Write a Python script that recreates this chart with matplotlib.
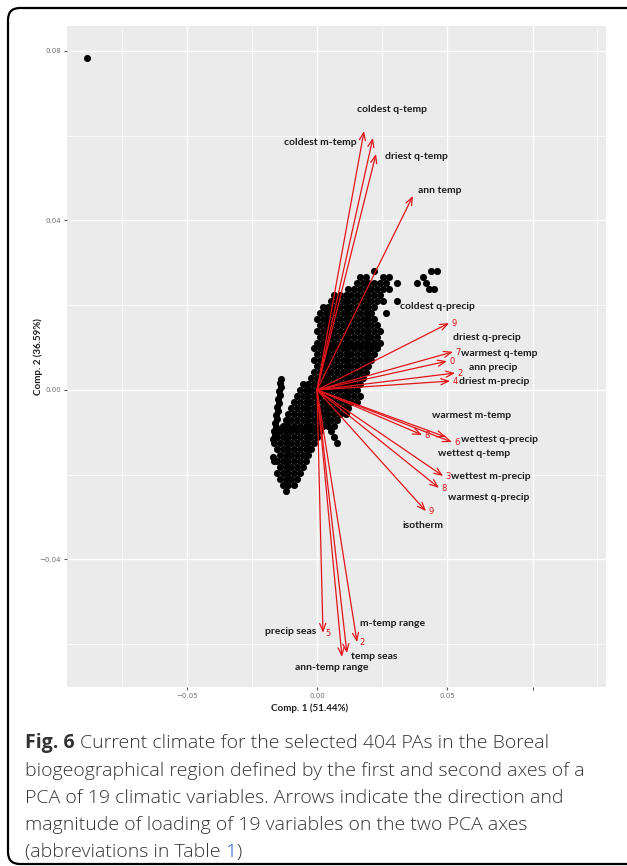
import matplotlib.pyplot as plt
from matplotlib.patches import FancyBboxPatch
from matplotlib.transforms import IdentityTransform

# PCA site scores (404 protected areas), grouped by rows of comp. 2
pc2_rows = [0.0280, 0.0266, 0.0252, 0.0238, 0.0224, 0.0210, 0.0196, 0.0182,
            0.0168, 0.0154, 0.0140, 0.0126, 0.0112, 0.0098, 0.0084, 0.0070,
            0.0056, 0.0042, 0.0028, 0.0014, 0.0000, -0.0014, -0.0028, -0.0042,
            -0.0056, -0.0070, -0.0084, -0.0098, -0.0112, -0.0126, -0.0140,
            -0.0154, -0.0168, -0.0182, -0.0196, -0.0210, -0.0224, -0.0238]
pc1_rows = [
    [0.0220, 0.0440, 0.0462],
    [0.0165, 0.0187, 0.0253, 0.0275, 0.0407],
    [0.0154, 0.0176, 0.0198, 0.0220, 0.0242, 0.0264, 0.0308, 0.0385, 0.0418],
    [0.0121, 0.0143, 0.0165, 0.0187, 0.0209, 0.0231, 0.0253, 0.0275, 0.0429, 0.0451],
    [0.0066, 0.0088, 0.0110, 0.0132, 0.0154, 0.0176, 0.0198, 0.0220, 0.0242],
    [0.0055, 0.0077, 0.0099, 0.0121, 0.0143, 0.0165, 0.0187, 0.0209, 0.0231, 0.0253, 0.0308],
    [0.0022, 0.0044, 0.0066, 0.0088, 0.0110, 0.0132, 0.0154, 0.0176, 0.0198, 0.0220],
    [0.0011, 0.0033, 0.0055, 0.0077, 0.0099, 0.0121, 0.0143, 0.0165, 0.0187, 0.0209, 0.0264],
    [0.0000, 0.0022, 0.0044, 0.0066, 0.0088, 0.0110, 0.0132, 0.0154, 0.0176, 0.0198, 0.0220],
    [0.0011, 0.0033, 0.0055, 0.0077, 0.0099, 0.0121, 0.0143, 0.0165, 0.0187, 0.0209, 0.0231],
    [0.0000, 0.0022, 0.0044, 0.0066, 0.0088, 0.0110, 0.0132, 0.0154, 0.0176, 0.0198, 0.0220, 0.0242],
    [0.0011, 0.0033, 0.0055, 0.0077, 0.0099, 0.0121, 0.0143, 0.0165, 0.0187, 0.0209, 0.0231],
    [0.0000, 0.0022, 0.0044, 0.0066, 0.0088, 0.0110, 0.0132, 0.0154, 0.0176, 0.0198, 0.0220, 0.0242],
    [-0.0011, 0.0011, 0.0033, 0.0055, 0.0077, 0.0099, 0.0121, 0.0143, 0.0165, 0.0187, 0.0209, 0.0231],
    [0.0000, 0.0022, 0.0044, 0.0066, 0.0088, 0.0110, 0.0132, 0.0154, 0.0176, 0.0198, 0.0220],
    [-0.0011, 0.0011, 0.0033, 0.0055, 0.0077, 0.0099, 0.0121, 0.0143, 0.0165, 0.0187, 0.0209],
    [0.0000, 0.0022, 0.0044, 0.0066, 0.0088, 0.0110, 0.0132, 0.0154, 0.0176, 0.0198],
    [-0.0011, 0.0011, 0.0033, 0.0055, 0.0077, 0.0099, 0.0121, 0.0143, 0.0165, 0.0187],
    [-0.0022, 0.0000, 0.0022, 0.0044, 0.0066, 0.0088, 0.0110, 0.0132, 0.0154, 0.0176],
    [-0.0055, -0.0033, -0.0011, 0.0011, 0.0033, 0.0055, 0.0077, 0.0099, 0.0121, 0.0143, 0.0165],
    [-0.0066, -0.0044, -0.0022, 0.0000, 0.0022, 0.0044, 0.0066, 0.0088, 0.0110, 0.0132, 0.0154],
    [-0.0077, -0.0055, -0.0033, -0.0011, 0.0011, 0.0033, 0.0055, 0.0077, 0.0099, 0.0121, 0.0143, 0.0165],
    [-0.0088, -0.0066, -0.0044, -0.0022, 0.0000, 0.0022, 0.0044, 0.0066, 0.0088, 0.0110, 0.0132, 0.0154],
    [-0.0099, -0.0077, -0.0055, -0.0033, -0.0011, 0.0011, 0.0033, 0.0055, 0.0077, 0.0099, 0.0121],
    [-0.0110, -0.0088, -0.0066, -0.0044, -0.0022, 0.0000, 0.0022, 0.0044, 0.0066, 0.0088, 0.0110],
    [-0.0121, -0.0099, -0.0077, -0.0055, -0.0033, -0.0011, 0.0011, 0.0033, 0.0055, 0.0077],
    [-0.0132, -0.0110, -0.0088, -0.0066, -0.0044, -0.0022, 0.0000, 0.0022, 0.0044, 0.0066],
    [-0.0143, -0.0121, -0.0099, -0.0077, -0.0055, -0.0033, -0.0011, 0.0011, 0.0055],
    [-0.0154, -0.0132, -0.0110, -0.0088, -0.0066, -0.0044, -0.0022, 0.0000, 0.0066],
    [-0.0143, -0.0121, -0.0099, -0.0077, -0.0055, -0.0033, -0.0011, 0.0077],
    [-0.0154, -0.0132, -0.0110, -0.0088, -0.0066, -0.0044, -0.0022],
    [-0.0143, -0.0121, -0.0099, -0.0077, -0.0055, -0.0033],
    [-0.0154, -0.0132, -0.0110, -0.0088, -0.0066, -0.0044],
    [-0.0143, -0.0121, -0.0099, -0.0077, -0.0055],
    [-0.0154, -0.0132, -0.0110, -0.0088, -0.0066],
    [-0.0143, -0.0121, -0.0099, -0.0077],
    [-0.0132, -0.0110, -0.0088],
    [-0.0121],
]

# narrow western strand of sites
strip_pc1 = [-0.0138, -0.0142, -0.0138, -0.0146, -0.0142, -0.0150, -0.0146, -0.0154,
             -0.0150, -0.0158, -0.0154, -0.0162, -0.0158, -0.0165, -0.0162, -0.0169,
             -0.0165, -0.0169, -0.0165]
strip_pc2 = [0.0026, 0.0017, 0.0007, -0.0002, -0.0012, -0.0021, -0.0031, -0.0040,
             -0.0050, -0.0059, -0.0068, -0.0078, -0.0087, -0.0097, -0.0106, -0.0116,
             -0.0125, -0.0158, -0.0168]

outlier_pc1 = [-0.0885]
outlier_pc2 = [0.0783]

# loadings of the 19 bioclimatic variables
variables = ['ann temp', 'm-temp range', 'isotherm', 'temp seas', 'warmest m-temp',
             'coldest m-temp', 'ann-temp range', 'wettest q-temp', 'driest q-temp',
             'warmest q-temp', 'coldest q-temp', 'ann precip', 'wettest m-precip',
             'driest m-precip', 'precip seas', 'wettest q-precip', 'driest q-precip',
             'warmest q-precip', 'coldest q-precip']
load_pc1 = [0.0369, 0.0154, 0.0419, 0.0115, 0.0496, 0.0215, 0.0096, 0.0404, 0.0227, 0.0500,
            0.0181, 0.0531, 0.0485, 0.0512, 0.0023, 0.0519, 0.0523, 0.0469, 0.0508]
load_pc2 = [0.0458, -0.0595, -0.0286, -0.0621, -0.0111, 0.0595, -0.0630, -0.0106, 0.0557, 0.0068,
            0.0611, 0.0040, -0.0203, 0.0021, -0.0573, -0.0123, 0.0090, -0.0231, 0.0158]

x_ticks = [-0.05, 0.0, 0.05, 0.0831]
x_tick_labels = ['\u22120.05', '0.00', '0.05', '']
y_ticks = [-0.04, 0.0, 0.04, 0.08]
y_tick_labels = ['\u22120.04', '0.00', '0.04', '0.08']

caption_lines = [
    'Current climate for the selected 404 PAs in the Boreal',
    'biogeographical region defined by the first and second axes of a',
    'PCA of 19 climatic variables. Arrows indicate the direction and',
    'magnitude of loading of 19 variables on the two PCA axes',
    '(abbreviations in Table ',
]

# where each variable name sits (data units)
label_pos = {
    'ann temp': (0.0473, 0.0470), 'm-temp range': (0.0292, -0.0550),
    'isotherm': (0.0408, -0.0321), 'temp seas': (0.0219, -0.0628),
    'warmest m-temp': (0.0596, -0.0061), 'coldest m-temp': (0.0012, 0.0583),
    'ann-temp range': (0.0058, -0.0656), 'wettest q-temp': (0.0604, -0.0149),
    'driest q-temp': (0.0381, 0.0550), 'warmest q-temp': (0.0700, 0.0085),
    'coldest q-temp': (0.0288, 0.0663), 'ann precip': (0.0677, 0.0054),
    'wettest m-precip': (0.0669, -0.0205), 'driest m-precip': (0.0681, 0.0021),
    'precip seas': (-0.0100, -0.0571), 'wettest q-precip': (0.0700, -0.0118),
    'driest q-precip': (0.0654, 0.0123), 'warmest q-precip': (0.0662, -0.0253),
    'coldest q-precip': (0.0462, 0.0198),
}
# leftover red index digits at some arrow tips
tip_digits = {
    'coldest q-precip': '9', 'driest q-precip': '7', 'warmest q-temp': '0',
    'ann precip': '2', 'driest m-precip': '4', 'wettest q-temp': '8',
    'wettest q-precip': '6', 'wettest m-precip': '3', 'warmest q-precip': '8',
    'isotherm': '9', 'precip seas': '5', 'm-temp range': '2',
}

W, H = 627, 866
RED = '#e3151a'


def fx(px):
    return px / W


def fy(py):
    return 1 - py / H


def main():
    fig = plt.figure(figsize=(W / 100, H / 100), dpi=100)

    ax = fig.add_axes([fx(67), fy(687), fx(606) - fx(67), fy(26) - fy(687)])
    ax.set_facecolor('#EBEBEB')
    ax.set_xlim(-0.09615, 0.11115)
    ax.set_ylim(-0.0701, 0.0859)
    for s in ax.spines.values():
        s.set_visible(False)

    ax.set_xticks(x_ticks)
    ax.set_xticklabels(x_tick_labels)
    ax.set_yticks(y_ticks)
    ax.set_yticklabels(y_tick_labels)
    ax.set_xticks([-0.075, -0.025, 0.025, 0.1077], minor=True)
    ax.set_yticks([-0.06, -0.02, 0.02, 0.06], minor=True)
    ax.tick_params(which='major', length=2.2, width=0.8, color='#555555',
                   labelsize=5, labelcolor='#6f6f6f', pad=2)
    ax.tick_params(which='minor', length=0)
    ax.grid(which='major', color='white', lw=1.0)
    ax.grid(which='minor', color='white', lw=0.5)
    ax.set_axisbelow(True)

    xs, ys = [], []
    for y, row in zip(pc2_rows, pc1_rows):
        xs.extend(row)
        ys.extend([y] * len(row))
    xs += strip_pc1 + outlier_pc1
    ys += strip_pc2 + outlier_pc2
    ax.scatter(xs, ys, s=26, c='black', lw=0, zorder=3)

    for name, lx, ly in zip(variables, load_pc1, load_pc2):
        ax.annotate('', xy=(lx, ly), xytext=(0, 0), zorder=4,
                    arrowprops=dict(arrowstyle='->,head_length=0.55,head_width=0.22',
                                    color=RED, lw=0.9, shrinkA=0, shrinkB=0))
        if name in tip_digits:
            ax.annotate(tip_digits[name], xy=(lx, ly), xytext=(1.5, -0.5),
                        textcoords='offset points', fontsize=6, color=RED,
                        ha='left', va='center', zorder=4)
        tx, ty = label_pos[name]
        ax.text(tx, ty, name, ha='center', va='center', fontsize=7.5,
                fontweight='bold', family='Lato', color='#1c1c1c', zorder=5)

    fig.text(fx(310), fy(708), 'Comp. 1 (51.44%)', ha='center', va='center',
             fontsize=7, fontweight='bold', family='Lato', color='#1c1c1c')
    fig.text(fx(38), fy(357), 'Comp. 2 (36.59%)', ha='center', va='center',
             rotation=90, fontsize=7, fontweight='bold', family='Lato', color='#1c1c1c')

    # caption
    renderer = fig.canvas.get_renderer()
    cap = dict(fontsize=14, family='Open Sans', color='#333333', va='baseline')
    baselines = [748, 775.5, 803, 830.5, 857]
    head = fig.text(fx(25), fy(baselines[0]), 'Fig. 6', fontweight='bold', **cap)
    x_end = head.get_window_extent(renderer).x1
    fig.text((x_end + 5) / W, fy(baselines[0]), caption_lines[0], fontweight='light', **cap)
    for line, b in zip(caption_lines[1:], baselines[1:]):
        t = fig.text(fx(25), fy(b), line, fontweight='light', **cap)
    x_end = t.get_window_extent(renderer).x1
    one = fig.text(x_end / W, fy(baselines[-1]), '1', fontweight='light',
                   **{**cap, 'color': '#1a56c4'})
    x_end = one.get_window_extent(renderer).x1
    fig.text(x_end / W, fy(baselines[-1]), ')', fontweight='light', **cap)

    frame = FancyBboxPatch((8, 2), 640, 856, boxstyle='round,pad=0,rounding_size=12',
                           transform=IdentityTransform(), fc='none', ec='black', lw=1.6)
    fig.add_artist(frame)

    fig.savefig('out.png', dpi=100)


if __name__ == '__main__':
    main()
